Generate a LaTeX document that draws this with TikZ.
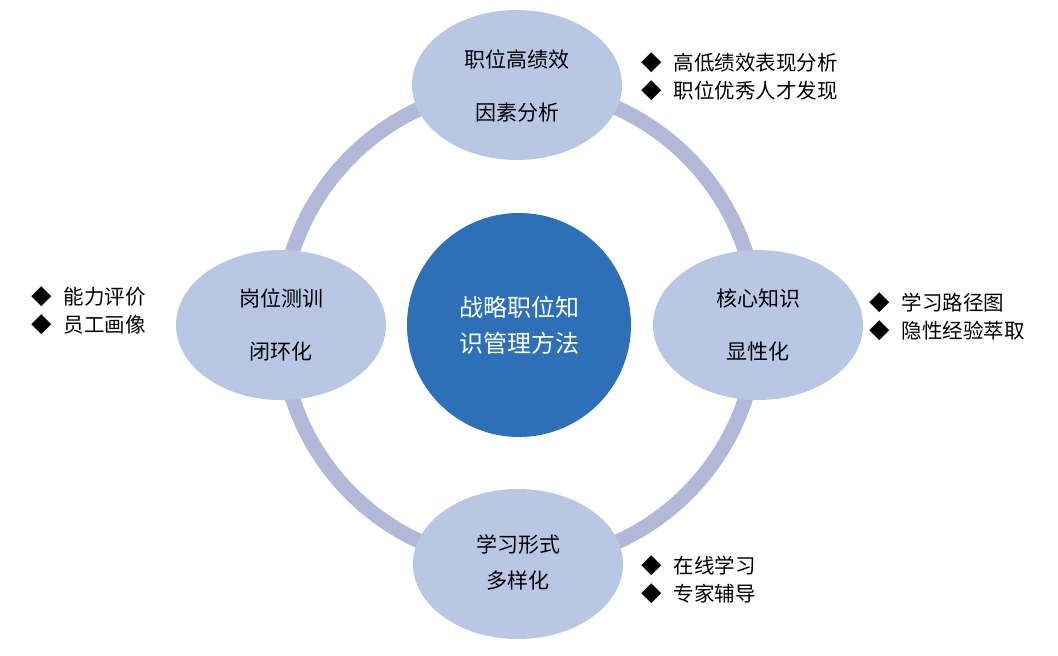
\documentclass[tikz,border=0pt]{standalone}
\usepackage{fontspec}
\setmainfont{Noto Sans CJK SC}
\definecolor{ringc}{RGB}{178,184,216}
\definecolor{ellc}{RGB}{184,200,228}
\definecolor{cenc}{RGB}{46,112,184}
\tikzset{
  ell/.style={ellipse,fill=ellc,minimum width=210pt,minimum height=150pt,inner sep=0pt},
  et/.style={font=\fontsize{21}{21}\selectfont,inner sep=0pt},
  bl/.style={anchor=west,font=\fontsize{20.5}{20.5}\selectfont,inner sep=0pt}
}
\usetikzlibrary{shapes.geometric}
\begin{document}
\begin{tikzpicture}[x=1pt,y=-1pt]
\useasboundingbox (0,0) rectangle (1058,656);
\coordinate (c) at (519,325);
\draw[ringc,line width=15pt] (c) circle (238);
\node[circle,fill=cenc,minimum size=224pt,inner sep=0pt,text=white,font=\fontsize{24}{36}\selectfont,align=center] (ctr) at (c) {战略职位知\\识管理方法};
\node[ell] (t) at (517,85) {};
\node[et] at (517,59) (t1) {职位高绩效};
\node[et] at (517,113) (t2) {因素分析};
\node[ell] (l) at (281,325) {};
\node[et] at (281,298) (l1) {岗位测训};
\node[et] at (281,352) (l2) {闭环化};
\node[ell] (r) at (758,325) {};
\node[et] at (758,298) (r1) {核心知识};
\node[et] at (758,352) (r2) {显性化};
\node[ell] (b) at (518,564) {};
\node[et] at (518,544) (b1) {学习形式};
\node[et] at (518,581) (b2) {多样化};
\node[bl] (tb1) at (641,63) {◆\hspace{12pt}高低绩效表现分析};
\node[bl] (tb2) at (641,91) {◆\hspace{12pt}职位优秀人才发现};
\node[bl] (lb1) at (31,297) {◆\hspace{12pt}能力评价};
\node[bl] (lb2) at (31,325) {◆\hspace{12pt}员工画像};
\node[bl] (rb1) at (869,303) {◆\hspace{12pt}学习路径图};
\node[bl] (rb2) at (869,331) {◆\hspace{12pt}隐性经验萃取};
\node[bl] (bb1) at (641,566) {◆\hspace{12pt}在线学习};
\node[bl] (bb2) at (641,594) {◆\hspace{12pt}专家辅导};
\end{tikzpicture}
\end{document}
